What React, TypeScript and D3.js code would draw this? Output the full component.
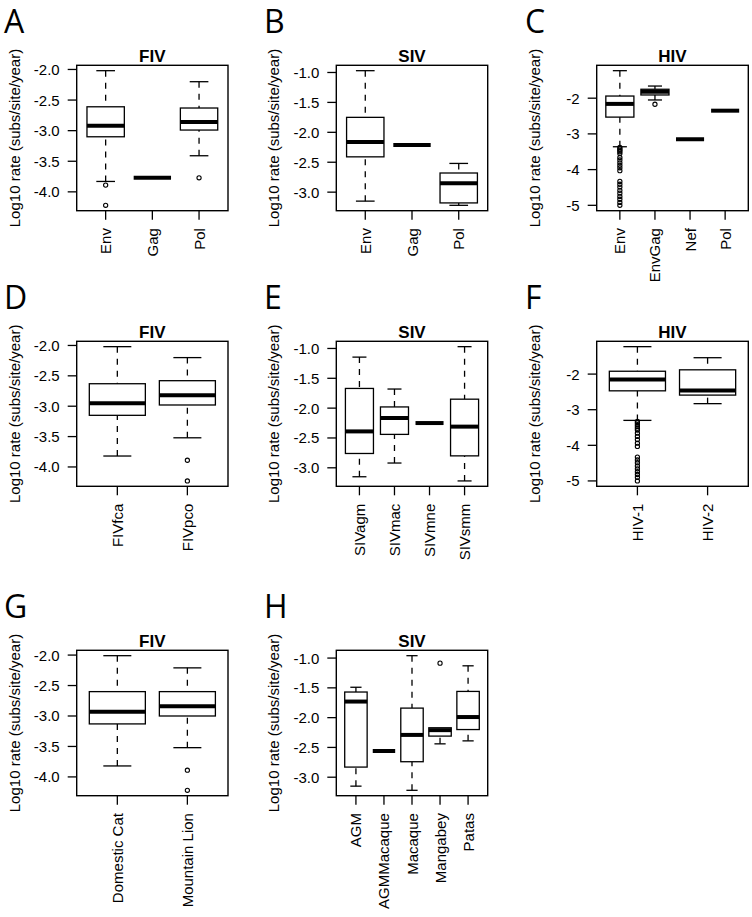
import React from "react";
import * as d3 from "d3";

const FONT = '"Liberation Sans", Arial, sans-serif';
const LETTER_FONT = '"Open Sans", "Noto Sans", sans-serif';

// ---- Panel A: FIV by gene ----
const catsA = ["Env", "Gag", "Pol"];
const statsA = [
  [-3.83, -3.1, -2.92, -2.61, -2.02],
  [-3.77, -3.77, -3.77, -3.77, -3.77],
  [-3.41, -2.99, -2.86, -2.63, -2.2],
];
const outA = [[-3.89, -4.22], [], [-3.77]];

// ---- Panel B: SIV by gene ----
const catsB = ["Env", "Gag", "Pol"];
const statsB = [
  [-3.15, -2.41, -2.16, -1.75, -0.97],
  [-2.21, -2.21, -2.21, -2.21, -2.21],
  [-3.22, -3.18, -2.85, -2.68, -2.52],
];
const outB = [[], [], []];

// ---- Panel C: HIV by gene ----
const catsC = ["Env", "EnvGag", "Nef", "Pol"];
const statsC = [
  [-3.36, -2.53, -2.16, -1.94, -1.23],
  [-2.05, -1.91, -1.82, -1.75, -1.66],
  [-3.15, -3.15, -3.15, -3.15, -3.15],
  [-2.35, -2.35, -2.35, -2.35, -2.35],
];
const outC = [
  [-3.38, -3.42, -3.46, -3.5, -3.55, -3.66, -3.73, -3.81, -3.88, -3.95, -4.03,
   -4.33, -4.41, -4.49, -4.58, -4.66, -4.75, -4.83, -4.92, -5.0],
  [-2.17],
  [],
  [],
];

// ---- Panel D: FIV by subtype ----
const catsD = ["FIVfca", "FIVpco"];
const statsD = [
  [-3.82, -3.15, -2.95, -2.63, -2.02],
  [-3.52, -2.98, -2.82, -2.58, -2.2],
];
const outD = [[], [-3.89, -4.23]];

// ---- Panel E: SIV by subtype ----
const catsE = ["SIVagm", "SIVmac", "SIVmne", "SIVsmm"];
const statsE = [
  [-3.15, -2.76, -2.39, -1.67, -1.145],
  [-2.92, -2.44, -2.165, -1.98, -1.68],
  [-2.25, -2.25, -2.25, -2.25, -2.25],
  [-3.22, -2.8, -2.31, -1.85, -0.97],
];
const outE = [[], [], [], []];

// ---- Panel F: HIV by type ----
const catsF = ["HIV-1", "HIV-2"];
const statsF = [
  [-3.3, -2.47, -2.15, -1.92, -1.23],
  [-2.83, -2.59, -2.46, -1.88, -1.54],
];
const outF = [
  [-3.33, -3.37, -3.42, -3.47, -3.52, -3.57, -3.66, -3.75, -3.84, -3.94, -4.03,
   -4.33, -4.41, -4.49, -4.58, -4.66, -4.74, -4.82, -4.9, -5.0],
  [],
];

// ---- Panel G: FIV by host ----
const catsG = ["Domestic Cat", "Mountain Lion"];
const statsG = [
  [-3.82, -3.13, -2.93, -2.6, -2.01],
  [-3.52, -3.0, -2.84, -2.6, -2.21],
];
const outG = [[], [-3.89, -4.22]];

// ---- Panel H: SIV by host ----
const catsH = ["AGM", "AGMMacaque", "Macaque", "Mangabey", "Patas"];
const statsH = [
  [-3.15, -2.83, -1.73, -1.57, -1.49],
  [-2.56, -2.56, -2.56, -2.56, -2.56],
  [-3.22, -2.74, -2.29, -1.84, -0.96],
  [-2.44, -2.31, -2.21, -2.17, -2.17],
  [-2.39, -2.2, -1.99, -1.56, -1.13],
];
const outH = [[], [], [], [-1.085], []];

const letters = ["A", "B", "C", "D", "E", "F", "G", "H"];
const titles = ["FIV", "SIV", "HIV", "FIV", "SIV", "HIV", "FIV", "SIV"];
const yLabel = "Log10 rate (subs/site/year)";

// layout (positions only)
const cols = [
  { x0: 76.7, x1: 228, lx: 4 },
  { x0: 336.3, x1: 487.7, lx: 264 },
  { x0: 596.7, x1: 748.3, lx: 525 },
];
const rows = [
  { y0: 65.3, y1: 210.7, ly: 33 },
  { y0: 341.3, y1: 486.3, ly: 309 },
  { y0: 650.3, y1: 795.7, ly: 618 },
];

const panels = [
  { cats: catsA, stats: statsA, outs: outA, c: 0, r: 0 },
  { cats: catsB, stats: statsB, outs: outB, c: 1, r: 0 },
  { cats: catsC, stats: statsC, outs: outC, c: 2, r: 0 },
  { cats: catsD, stats: statsD, outs: outD, c: 0, r: 1 },
  { cats: catsE, stats: statsE, outs: outE, c: 1, r: 1 },
  { cats: catsF, stats: statsF, outs: outF, c: 2, r: 1 },
  { cats: catsG, stats: statsG, outs: outG, c: 0, r: 2 },
  { cats: catsH, stats: statsH, outs: outH, c: 1, r: 2 },
];

const locale = d3.formatLocale({
  decimal: ".",
  thousands: ",",
  grouping: [3],
  currency: ["$", ""],
  minus: "-",
});

const FS = 15;
const SW = 1.3;

function BoxPanel({ p, i }: { p: any; i: number }) {
  const { x0, x1, lx } = cols[p.c];
  const { y0, y1, ly } = rows[p.r];
  const n = p.cats.length;
  const all: number[] = [...p.stats.flat(), ...p.outs.flat()];
  const mn = d3.min(all) as number;
  const mx = d3.max(all) as number;
  const pad = (mx - mn) * 0.04;
  const y = d3.scaleLinear().domain([mn - pad, mx + pad]).range([y1, y0]);
  const x = d3
    .scaleLinear()
    .domain([0.5 - 0.04 * n, n + 0.5 + 0.04 * n])
    .range([x0, x1]);
  const unit = x(1) - x(0);
  const bw = unit * 0.8;
  const ticks = y.ticks(5);
  const step = ticks.length > 1 ? ticks[1] - ticks[0] : 1;
  const fmt = locale.format(step < 1 ? ".1f" : "d");
  const cy = (y0 + y1) / 2;

  return (
    <g>
      <text x={lx} y={ly} fontFamily={LETTER_FONT} fontSize={32} fill="#000">
        {letters[i]}
      </text>
      <text
        x={(x0 + x1) / 2}
        y={y0 - 3}
        textAnchor="middle"
        fontFamily={FONT}
        fontWeight="bold"
        fontSize={17}
      >
        {titles[i]}
      </text>
      <text
        transform={`translate(${x0 - 57},${cy}) rotate(-90)`}
        textAnchor="middle"
        fontFamily={FONT}
        fontSize={FS}
      >
        {yLabel}
      </text>
      {ticks.map((t) => (
        <g key={t}>
          <line x1={x0 - 9} x2={x0} y1={y(t)} y2={y(t)} stroke="#000" strokeWidth={SW} />
          <text
            x={x0 - 17}
            y={y(t)}
            textAnchor="end"
            dominantBaseline="central"
            fontFamily={FONT}
            fontSize={FS}
          >
            {fmt(t)}
          </text>
        </g>
      ))}
      {p.cats.map((c: string, k: number) => {
        const cx = x(k + 1);
        return (
          <g key={c}>
            <line x1={cx} x2={cx} y1={y1} y2={y1 + 9} stroke="#000" strokeWidth={SW} />
            <text
              transform={`translate(${cx},${y1 + 17.4}) rotate(-90)`}
              textAnchor="end"
              dominantBaseline="central"
              fontFamily={FONT}
              fontSize={FS}
            >
              {c}
            </text>
          </g>
        );
      })}
      {p.stats.map((s: number[], k: number) => {
        const [lo, q1, med, q3, hi] = s;
        const cx = x(k + 1);
        return (
          <g key={k}>
            {q3 !== hi && (
              <>
                <line x1={cx} x2={cx} y1={y(hi)} y2={y(q3)} stroke="#000" strokeWidth={SW} strokeDasharray="6,6" />
                <line x1={cx - bw / 4} x2={cx + bw / 4} y1={y(hi)} y2={y(hi)} stroke="#000" strokeWidth={SW} />
              </>
            )}
            {q1 !== lo && (
              <>
                <line x1={cx} x2={cx} y1={y(lo)} y2={y(q1)} stroke="#000" strokeWidth={SW} strokeDasharray="6,6" />
                <line x1={cx - bw / 4} x2={cx + bw / 4} y1={y(lo)} y2={y(lo)} stroke="#000" strokeWidth={SW} />
              </>
            )}
            {q3 !== q1 && (
              <rect
                x={cx - bw / 2}
                y={y(q3)}
                width={bw}
                height={y(q1) - y(q3)}
                fill="#fff"
                stroke="#000"
                strokeWidth={SW}
              />
            )}
            <line
              x1={cx - bw / 2}
              x2={cx + bw / 2}
              y1={y(med)}
              y2={y(med)}
              stroke="#000"
              strokeWidth={4}
            />
            {p.outs[k].map((o: number, j: number) => (
              <circle key={j} cx={cx} cy={y(o)} r={2.1} fill="none" stroke="#000" strokeWidth={1.1} />
            ))}
          </g>
        );
      })}
      <rect x={x0} y={y0} width={x1 - x0} height={y1 - y0} fill="none" stroke="#000" strokeWidth={1.4} />
    </g>
  );
}

export default function App() {
  return (
    <svg
      width={752}
      height={917}
      style={{ position: "absolute", left: 0, top: 0, background: "#fff" }}
    >
      <rect width={752} height={917} fill="#fff" />
      {panels.map((p, i) => (
        <BoxPanel key={i} p={p} i={i} />
      ))}
    </svg>
  );
}
